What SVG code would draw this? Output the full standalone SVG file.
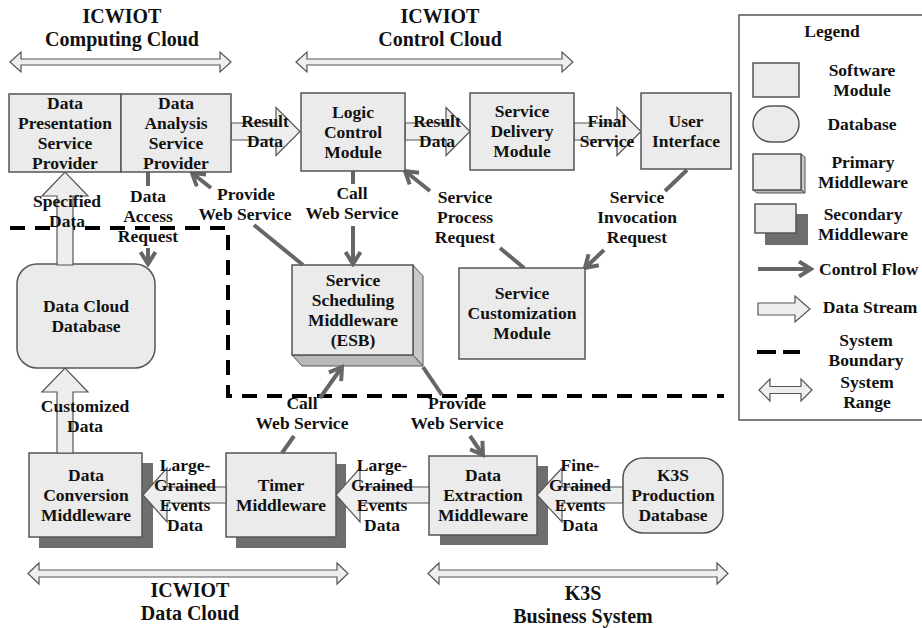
<svg xmlns="http://www.w3.org/2000/svg" width="922" height="628" viewBox="0 0 922 628">
<defs>
<style>
text{font-family:"Liberation Serif","Times New Roman",serif;font-weight:bold;fill:#111;}
.t{font-size:17.5px;text-anchor:middle;}
.ts{font-size:17.5px;text-anchor:start;}
.title{font-size:20px;text-anchor:middle;}
.box{fill:#ebebeb;stroke:#555;stroke-width:1.5;}
.shadow{fill:#6e6e6e;stroke:none;}
.side{fill:#c9c9c9;stroke:#555;stroke-width:1;}
.bot{fill:#b9b9b9;stroke:#555;stroke-width:1;}
.cf{fill:none;stroke:#666;stroke-width:4;}
.ds{fill:#eeeeee;stroke:#555;stroke-width:1.2;}
.rng{fill:#eeeeee;stroke:#555;stroke-width:1.2;}
.bd{fill:none;stroke:#000;stroke-width:4;stroke-dasharray:15 10;}
</style>
<marker id="chev" viewBox="0 0 18 18" refX="15" refY="9" markerWidth="18" markerHeight="18" markerUnits="userSpaceOnUse" orient="auto">
<path d="M3,1.5 L15,9 L3,16.5" fill="none" stroke="#666" stroke-width="4"/>
</marker>
</defs>
<rect x="0" y="0" width="922" height="628" fill="#fff"/>

<g id="titles">
<text class="title" x="122" y="23">ICWIOT<tspan x="122" y="46">Computing Cloud</tspan></text>
<text class="title" x="440" y="23">ICWIOT<tspan x="440" y="46">Control Cloud</tspan></text>
<text class="title" x="190" y="597">ICWIOT<tspan x="190" y="620">Data Cloud</tspan></text>
<text class="title" x="583" y="600">K3S<tspan x="583" y="623">Business System</tspan></text>
</g>

<g id="ranges">
<path class="rng" d="M10,62 L21,52 L21,59 L220,59 L220,52 L231,62 L220,72 L220,65 L21,65 L21,72 Z"/>
<path class="rng" d="M296,62 L307,52 L307,59 L562,59 L562,52 L573,62 L562,72 L562,65 L307,65 L307,72 Z"/>
<path class="rng" d="M28,573.5 L39,563 L39,570 L337,570 L337,563 L348,573.5 L337,584 L337,577 L39,577 L39,584 Z"/>
<path class="rng" d="M428,573.5 L439,563 L439,570 L717,570 L717,563 L728,573.5 L717,584 L717,577 L439,577 L439,584 Z"/>
</g>

<g id="boundary">
<path class="bd" d="M10,228 L228,228 L228,396 L724,396"/>
</g>

<g id="data-cloud-db">
<rect class="box" x="17" y="264" width="138" height="104" rx="20"/>
<text class="t" x="86" y="312">Data Cloud<tspan x="86" y="332">Database</tspan></text>
</g>

<g id="service-scheduling">
<polygon class="side" points="413,265 423,276 423,366 413,355"/>
<polygon class="bot" points="292,355 413,355 423,366 302,366"/>
<rect class="box" x="292" y="265" width="121" height="90"/>
<text class="t" x="353" y="286">Service<tspan x="353" y="306">Scheduling</tspan><tspan x="353" y="326">Middleware</tspan><tspan x="353" y="346">(ESB)</tspan></text>
</g>

<g id="data-conversion">
<rect class="shadow" x="39" y="463" width="114" height="85"/>
<rect class="box" x="29" y="453" width="113" height="84"/>
<text class="t" x="86" y="481">Data<tspan x="86" y="501">Conversion</tspan><tspan x="86" y="521">Middleware</tspan></text>
</g>

<g id="timer">
<rect class="shadow" x="236" y="464" width="110" height="84"/>
<rect class="box" x="226" y="453" width="110" height="84"/>
<text class="t" x="281" y="491">Timer<tspan x="281" y="511">Middleware</tspan></text>
</g>

<g id="data-extraction">
<rect class="shadow" x="440" y="466" width="108" height="79"/>
<rect class="box" x="429" y="456" width="108" height="79"/>
<text class="t" x="483" y="481">Data<tspan x="483" y="501">Extraction</tspan><tspan x="483" y="521">Middleware</tspan></text>
</g>

<g id="connectors">
<path class="ds" d="M231,123 L276,123 L276,107.5 L300,131.5 L276,155.5 L276,140 L231,140 Z"/>
<path class="ds" d="M405,123 L446,123 L446,107.5 L470,131.5 L446,155.5 L446,140 L405,140 Z"/>
<path class="ds" d="M574,123 L617,123 L617,107.5 L641,131.5 L617,155.5 L617,140 L574,140 Z"/>
<path class="ds" d="M57,265 L57,196 L42,196 L65,172 L88,196 L73,196 L73,265 Z"/>
<path class="ds" d="M57,453 L57,392 L42,392 L65,368 L88,392 L73,392 L73,453 Z"/>
<path class="ds" d="M226,487 L167,487 L167,468 L143,495 L167,522 L167,503 L226,503 Z"/>
<path class="ds" d="M429,487 L360,487 L360,468 L336,495 L360,522 L360,503 L429,503 Z"/>
<path class="ds" d="M623,487 L562,487 L562,468 L537,495 L562,522 L562,503 L623,503 Z"/>

<path class="cf" d="M148,172 L148,186"/>
<path class="cf" d="M148,248 L148,264" marker-end="url(#chev)"/>
<path class="cf" d="M303,265 L254,225"/>
<path class="cf" d="M211,188 L192,173" marker-end="url(#chev)"/>
<path class="cf" d="M353,171 L353,184"/>
<path class="cf" d="M353,226 L353,264" marker-end="url(#chev)"/>
<path class="cf" d="M524,268 L500,248"/>
<path class="cf" d="M430,191 L405,171" marker-end="url(#chev)"/>
<path class="cf" d="M687,170 L665,191"/>
<path class="cf" d="M604,250 L585,268" marker-end="url(#chev)"/>
<path class="cf" d="M282,453 L294,436"/>
<path class="cf" d="M320,398 L342,367" marker-end="url(#chev)"/>
<path class="cf" d="M423,367 L442,395"/>
<path class="cf" d="M470,436 L483,455" marker-end="url(#chev)"/>

<text class="t" x="265" y="127">Result<tspan x="265" y="147">Data</tspan></text>
<text class="t" x="437" y="127">Result<tspan x="437" y="147">Data</tspan></text>
<text class="t" x="607" y="127">Final<tspan x="607" y="147">Service</tspan></text>
<text class="t" x="67" y="207">Specified<tspan x="67" y="227">Data</tspan></text>
<text class="t" x="148" y="202">Data<tspan x="148" y="222">Access</tspan><tspan x="148" y="242">Request</tspan></text>
<text class="t" x="246" y="200">Provide<tspan x="245" y="220">Web Service</tspan></text>
<text class="t" x="352" y="199">Call<tspan x="352" y="219">Web Service</tspan></text>
<text class="t" x="465" y="203">Service<tspan x="465" y="223">Process</tspan><tspan x="465" y="243">Request</tspan></text>
<text class="t" x="637" y="203">Service<tspan x="637" y="223">Invocation</tspan><tspan x="637" y="243">Request</tspan></text>
<text class="t" x="85" y="412">Customized<tspan x="85" y="432">Data</tspan></text>
<text class="t" x="302" y="409">Call<tspan x="302" y="429">Web Service</tspan></text>
<text class="t" x="457" y="409">Provide<tspan x="457" y="429">Web Service</tspan></text>
<text class="t" x="185" y="471">Large-<tspan x="185" y="491">Grained</tspan><tspan x="185" y="511">Events</tspan><tspan x="185" y="531">Data</tspan></text>
<text class="t" x="382" y="471">Large-<tspan x="382" y="491">Grained</tspan><tspan x="382" y="511">Events</tspan><tspan x="382" y="531">Data</tspan></text>
<text class="t" x="580" y="471">Fine-<tspan x="580" y="491">Grained</tspan><tspan x="580" y="511">Events</tspan><tspan x="580" y="531">Data</tspan></text>
</g>

<g id="data-presentation">
<rect class="box" x="9" y="94" width="112" height="78"/>
<text class="t" x="65" y="109">Data<tspan x="65" y="129">Presentation</tspan><tspan x="65" y="149">Service</tspan><tspan x="65" y="169">Provider</tspan></text>
</g>

<g id="data-analysis">
<rect class="box" x="121" y="94" width="110" height="78"/>
<text class="t" x="176" y="109">Data<tspan x="176" y="129">Analysis</tspan><tspan x="176" y="149">Service</tspan><tspan x="176" y="169">Provider</tspan></text>
</g>

<g id="logic-control">
<rect class="box" x="301" y="93" width="104" height="78"/>
<text class="t" x="353" y="118">Logic<tspan x="353" y="138">Control</tspan><tspan x="353" y="158">Module</tspan></text>
</g>

<g id="service-delivery">
<rect class="box" x="470" y="93" width="104" height="77"/>
<text class="t" x="522" y="117">Service<tspan x="522" y="137">Delivery</tspan><tspan x="522" y="157">Module</tspan></text>
</g>

<g id="user-interface">
<rect class="box" x="641" y="93" width="90" height="76"/>
<text class="t" x="686" y="127">User<tspan x="686" y="147">Interface</tspan></text>
</g>

<g id="service-customization">
<rect class="box" x="459" y="268" width="126" height="91"/>
<text class="t" x="522" y="299">Service<tspan x="522" y="319">Customization</tspan><tspan x="522" y="339">Module</tspan></text>
</g>

<g id="k3s-db">
<rect class="box" x="623" y="458" width="100" height="75" rx="20"/>
<text class="t" x="673" y="481">K3S<tspan x="673" y="501">Production</tspan><tspan x="673" y="521">Database</tspan></text>
</g>

<g id="legend">
<rect x="739" y="15" width="190" height="405" fill="#fff" stroke="#555" stroke-width="1.5"/>
<text class="t" x="832" y="37">Legend</text>
<rect class="box" x="753" y="63" width="46" height="34"/>
<text class="t" x="862" y="76">Software<tspan x="862" y="96">Module</tspan></text>
<rect class="box" x="753" y="106" width="46" height="36" rx="18"/>
<text class="t" x="862" y="130">Database</text>
<polygon class="side" points="801,154 805,157 805,193 801,190"/>
<polygon class="bot" points="753,190 801,190 805,193 757,193"/>
<rect class="box" x="753" y="154" width="48" height="36"/>
<text class="t" x="863" y="168">Primary<tspan x="863" y="188">Middleware</tspan></text>
<rect class="shadow" x="765" y="214" width="43" height="31"/>
<rect class="box" x="755" y="204" width="41" height="29"/>
<text class="t" x="863" y="220">Secondary<tspan x="863" y="240">Middleware</tspan></text>
<path class="cf" d="M758,269 L811,269" marker-end="url(#chev)"/>
<text class="ts" x="819" y="275">Control Flow</text>
<path class="ds" d="M758,303 L795,303 L795,296 L810,309 L795,322 L795,315 L758,315 Z"/>
<text class="t" x="870" y="313">Data Stream</text>
<path d="M757,352 L776,352 M783,352 L800,352" stroke="#000" stroke-width="4" fill="none"/>
<text class="t" x="866" y="346">System<tspan x="866" y="366">Boundary</tspan></text>
<path class="rng" d="M759,390 L770,379 L770,386.5 L801,386.5 L801,379 L812,390 L801,401 L801,393.5 L770,393.5 L770,401 Z"/>
<text class="t" x="867" y="388">System<tspan x="867" y="408">Range</tspan></text>
</g>
</svg>
